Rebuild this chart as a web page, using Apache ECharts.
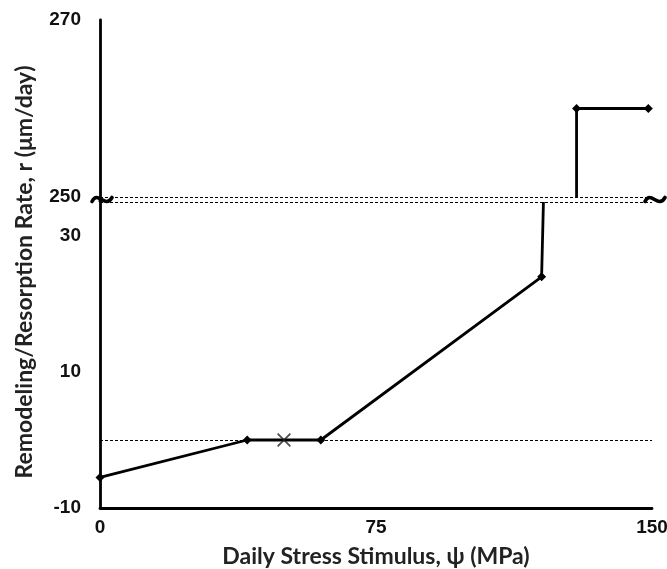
<!DOCTYPE html>
<html><head><meta charset="utf-8">
<script src="https://cdn.jsdelivr.net/npm/echarts@6/dist/echarts.min.js"></script>
<style>html,body{margin:0;padding:0;background:#fff}#c{width:667px;height:569px}</style>
</head><body><div id="c"></div>
<script>
// ---- data ----
const xTicks = [0, 75, 150];
const yTopTicks = [250, 270];
const yBottomTicks = [-10, 10, 30];
const lowerCurve = [[0, -5.5], [40, 0], [60, 0], [120, 24]];
const lowerRiser = [[120, 24], [120.5, 35]];
const upperCurve = [[129.5, 250], [129.5, 260], [149, 260]];
const upperMarked = [false, true, true];
const crossPoint = [[50, 0]];
const upperBreak = [250];
const lowerBreak = [35];
const zeroLine = [0];
const xName = 'Daily Stress Stimulus, ψ (MPa)';
const yName = 'Remodeling/Resorption Rate, r (μm/day)';

const chart = echarts.init(document.getElementById('c'), null, {renderer: 'canvas'});
const tickFont = {fontFamily: '"Liberation Sans Narrow", "Liberation Sans", Arial, sans-serif', fontWeight: 'bold', fontSize: 19, color: '#111'};
const axisLine = {show: true, onZero: false, lineStyle: {color: '#000', width: 2.8}};
const dashed = {color: '#000', width: 1, type: [3, 2]};
const mk = vals => ({symbol: 'none', silent: true, label: {show: false}, lineStyle: dashed,
  data: vals.map(v => ({yAxis: v}))});
const crossPath = 'path://M0,0.9L0.9,0L10,9.1L9.1,10Z M9.1,0L10,0.9L0.9,10L0,9.1Z';
const titleFont = 'Lato, "Open Sans", sans-serif';

chart.setOption({
  animation: false,
  grid: [
    {left: 100, right: 15, top: 20, height: 177, outerBoundsMode: 'none', containLabel: false},
    {left: 100, right: 15, top: 202, bottom: 61, outerBoundsMode: 'none', containLabel: false}
  ],
  xAxis: [
    {gridIndex: 0, type: 'value', min: xTicks[0], max: xTicks[xTicks.length - 1], show: false},
    {gridIndex: 1, type: 'value', min: xTicks[0], max: xTicks[xTicks.length - 1], interval: xTicks[1] - xTicks[0],
      axisLine: axisLine, axisTick: {show: false}, splitLine: {show: false},
      axisLabel: Object.assign({margin: 10}, tickFont),
      name: xName, nameLocation: 'middle', nameGap: 37,
      nameTextStyle: {fontFamily: titleFont, fontWeight: 'bold', fontSize: 23, color: '#222'}}
  ],
  yAxis: [
    {gridIndex: 0, type: 'value', min: yTopTicks[0], max: yTopTicks[1], interval: yTopTicks[1] - yTopTicks[0],
      axisLine: axisLine, axisTick: {show: false}, splitLine: {show: false},
      axisLabel: Object.assign({margin: 19}, tickFont)},
    {gridIndex: 1, type: 'value', min: yBottomTicks[0], max: lowerBreak[0],
      axisLine: axisLine, axisTick: {show: false}, splitLine: {show: false},
      axisLabel: Object.assign({margin: 19, customValues: yBottomTicks}, tickFont)}
  ],
  series: [
    {type: 'line', xAxisIndex: 0, yAxisIndex: 0, clip: false,
      data: upperCurve.map((p, i) => ({value: p, symbol: upperMarked[i] ? 'diamond' : 'none'})),
      symbol: 'diamond', symbolSize: 9, showAllSymbol: true,
      lineStyle: {color: '#000', width: 2.8}, itemStyle: {color: '#000'},
      markLine: mk(upperBreak)},
    {type: 'line', xAxisIndex: 1, yAxisIndex: 1, clip: false,
      data: lowerCurve, symbol: 'diamond', symbolSize: 9, showAllSymbol: true,
      lineStyle: {color: '#000', width: 2.8}, itemStyle: {color: '#000'},
      markLine: mk(lowerBreak.concat(zeroLine))},
    {type: 'line', xAxisIndex: 1, yAxisIndex: 1, clip: false,
      data: lowerRiser, symbol: 'none', lineStyle: {color: '#000', width: 2.8}},
    {type: 'scatter', xAxisIndex: 1, yAxisIndex: 1, clip: false, z: 5,
      data: crossPoint, symbol: crossPath, symbolSize: 14, itemStyle: {color: '#222'}}
  ]
});

// decorations: axis bridge across the break, break marks, rotated y-axis title
const pL0 = chart.convertToPixel({gridIndex: 0}, [xTicks[0], upperBreak[0]]);
const pL1 = chart.convertToPixel({gridIndex: 1}, [xTicks[0], lowerBreak[0]]);
const pR0 = chart.convertToPixel({gridIndex: 0}, [xTicks[2], upperBreak[0]]);
const yTop = chart.convertToPixel({gridIndex: 0}, [0, yTopTicks[1]])[1];
const yBot = chart.convertToPixel({gridIndex: 1}, [0, yBottomTicks[0]])[1];
const midY = (pL0[1] + pL1[1]) / 2;
function tilde(cx) {
  return {type: 'bezierCurve', z: 100,
    shape: {x1: cx - 10, y1: midY + 2, cpx1: cx - 4, cpy1: midY - 10, cpx2: cx + 3, cpy2: midY + 10, x2: cx + 10, y2: midY - 2},
    style: {stroke: '#000', lineWidth: 3.6, fill: null, lineCap: 'round'}};
}
chart.setOption({
  graphic: [
    {type: 'line', shape: {x1: pL0[0], y1: pL0[1], x2: pL1[0], y2: pL1[1]}, style: {stroke: '#000', lineWidth: 2.8}},
    tilde(pL0[0] + 2),
    tilde(pR0[0] + 3),
    {type: 'text', x: 25, y: (yTop + yBot) / 2 + 8, rotation: Math.PI / 2,
      style: {text: yName, fill: '#222', font: 'bold 23px ' + titleFont,
        align: 'center', verticalAlign: 'middle'}}
  ]
});
</script>
</body></html>
